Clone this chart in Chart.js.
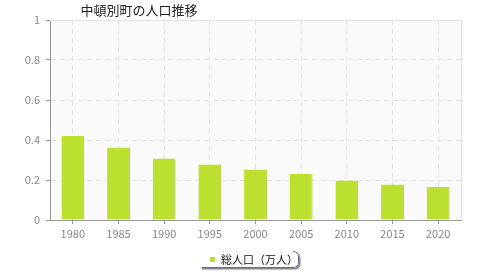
<!DOCTYPE html>
<html>
<head>
<meta charset="utf-8">
<script src="https://cdn.jsdelivr.net/npm/chart.js@4"></script>
<style>
  html, body { margin: 0; padding: 0; background: #fff; }
  #wrap { width: 480px; height: 280px; }
</style>
</head>
<body>
<div id="wrap"><canvas id="grafico" width="480" height="280"></canvas></div>
<script>
// データ
var titulo = "中頓別町の人口推移";
var anos = ["1980", "1985", "1990", "1995", "2000", "2005", "2010", "2015", "2020"];
var populacao = [0.42, 0.363, 0.307, 0.278, 0.253, 0.23, 0.198, 0.177, 0.165];
var rotuloSerie = "総人口（万人）";
var ticksY = [0, 0.2, 0.4, 0.6, 0.8, 1];

var fonte = "'Noto Sans CJK JP', 'DejaVu Sans', sans-serif";

// fundo, bordas, título e legenda
var extras = {
    id: "extras",
    beforeDraw: function(chart) {
        var c = chart.ctx, a = chart.chartArea;
        c.save();
        c.fillStyle = "#fafafa";
        c.fillRect(a.left, a.top, a.right - a.left, a.bottom - a.top);
        c.restore();
    },
    afterDraw: function(chart) {
        var c = chart.ctx, a = chart.chartArea;
        c.save();
        // bordas superior e direita
        c.strokeStyle = "#e2e2e2";
        c.lineWidth = 1;
        c.beginPath();
        c.moveTo(a.left, a.top + 0.5);
        c.lineTo(a.right + 0.5, a.top + 0.5);
        c.lineTo(a.right + 0.5, a.bottom);
        c.stroke();

        // título
        c.fillStyle = "#222";
        c.font = "13px " + fonte;
        c.textAlign = "center";
        c.textBaseline = "middle";
        c.fillText(titulo, 139, 10);

        // legenda
        var ds = chart.data.datasets[0];
        var bx = 200, by = 251, bw = 99, bh = 17;
        c.shadowColor = "rgba(40,50,80,0.6)";
        c.shadowOffsetX = 1.5;
        c.shadowOffsetY = 1.5;
        c.shadowBlur = 1;
        c.fillStyle = "#fff";
        c.beginPath();
        c.moveTo(bx, by);
        c.lineTo(bx + bw - 6, by);
        c.quadraticCurveTo(bx + bw, by, bx + bw, by + 6);
        c.lineTo(bx + bw, by + bh - 6);
        c.quadraticCurveTo(bx + bw, by + bh, bx + bw - 6, by + bh);
        c.lineTo(bx, by + bh);
        c.closePath();
        c.fill();
        c.shadowColor = "transparent";
        c.strokeStyle = "#666a80";
        c.lineWidth = 1;
        c.beginPath();
        c.moveTo(bx + bw - 6, by + 0.5);
        c.quadraticCurveTo(bx + bw - 0.5, by + 0.5, bx + bw - 0.5, by + 6);
        c.lineTo(bx + bw - 0.5, by + bh - 6);
        c.quadraticCurveTo(bx + bw - 0.5, by + bh - 0.5, bx + bw - 6, by + bh - 0.5);
        c.lineTo(bx + 2, by + bh - 0.5);
        c.stroke();
        c.fillStyle = ds.backgroundColor;
        c.fillRect(bx + 10, by + 6, 5, 5);
        c.fillStyle = "#111";
        c.font = "11px " + fonte;
        c.textAlign = "left";
        c.fillText(ds.label, bx + 21, by + 8.5);
        c.restore();
    }
};

var ctx = document.getElementById("grafico").getContext("2d");
var grafico = new Chart(ctx, {
    type: "bar",
    data: {
        labels: anos,
        datasets: [{
            label: rotuloSerie,
            data: populacao,
            backgroundColor: "#bbe02f",
            borderColor: "#a9c92a",
            borderWidth: { right: 1 },
            borderSkipped: "bottom",
            categoryPercentage: 1,
            barPercentage: 0.5
        }]
    },
    options: {
        responsive: false,
        animation: false,
        layout: { padding: { top: 20, right: 19, left: 0, bottom: 0 } },
        plugins: {
            legend: { display: false },
            title: { display: false },
            tooltip: { enabled: false }
        },
        scales: {
            x: {
                afterFit: function(s) { s.height = 60; },
                grid: {
                    offset: false,
                    color: "#e2e2e2",
                    tickColor: "#999",
                    tickLength: 4,
                    tickBorderDash: []
                },
                border: { color: "#999", width: 1, dash: [5, 4] },
                ticks: {
                    color: "#888",
                    padding: 3,
                    font: { family: fonte, size: 11 }
                }
            },
            y: {
                min: 0,
                max: 1,
                afterFit: function(s) { s.width = 50; },
                afterBuildTicks: function(s) {
                    s.ticks = ticksY.map(function(v) { return { value: v }; });
                },
                grid: {
                    color: "#e2e2e2",
                    tickColor: "#999",
                    tickLength: 4,
                    tickBorderDash: []
                },
                border: { color: "#999", width: 1, dash: [5, 4] },
                ticks: {
                    color: "#888",
                    padding: 6,
                    font: { family: fonte, size: 11 },
                    callback: function(v) { return String(v); }
                }
            }
        }
    },
    plugins: [extras]
});
</script>
</body>
</html>
